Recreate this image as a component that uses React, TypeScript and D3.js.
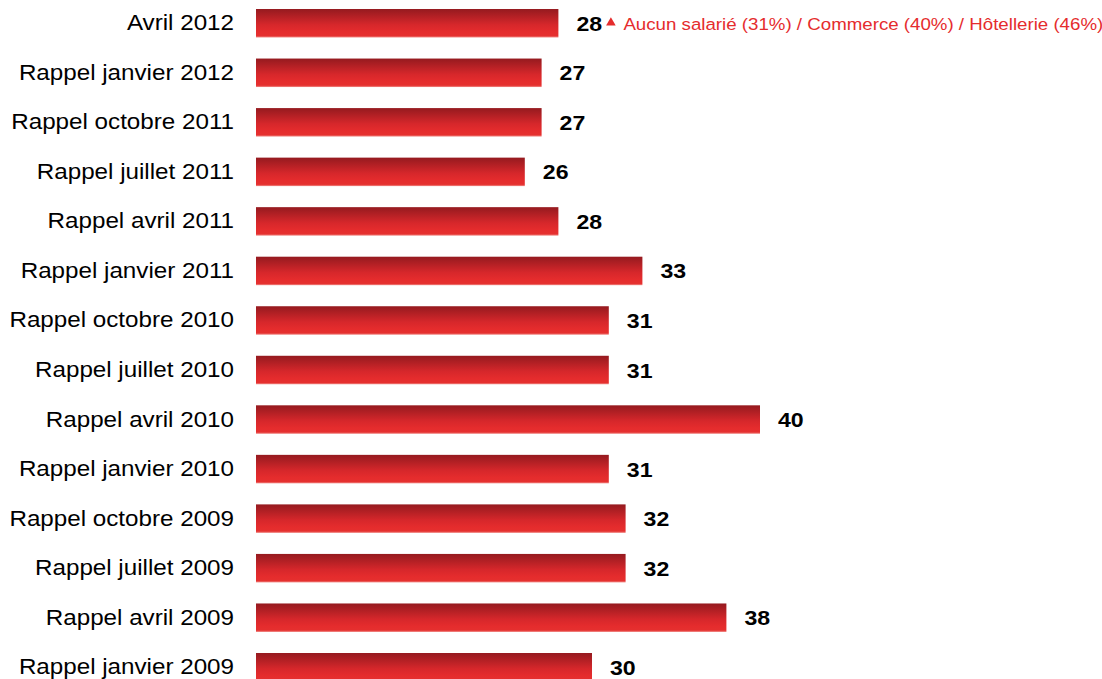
import * as d3 from 'd3'

const categories = [
  'Avril 2012',
  'Rappel janvier 2012',
  'Rappel octobre 2011',
  'Rappel juillet 2011',
  'Rappel avril 2011',
  'Rappel janvier 2011',
  'Rappel octobre 2010',
  'Rappel juillet 2010',
  'Rappel avril 2010',
  'Rappel janvier 2010',
  'Rappel octobre 2009',
  'Rappel juillet 2009',
  'Rappel avril 2009',
  'Rappel janvier 2009',
]
const values = [28, 27, 27, 26, 28, 33, 31, 31, 40, 31, 32, 32, 38, 30]
const note = 'Aucun salarié (31%) / Commerce (40%) / Hôtellerie (46%)'

const W = 1102
const H = 679
const FONT = 'Arial, "Liberation Sans", sans-serif'
const SX = 1.1 // the source text is a bit stretched horizontally

export default function App() {
  const x = d3.scaleLinear().domain([10, 40]).range([256, 760])
  const y = d3.scaleBand<string>()
    .domain(categories)
    .range([-0.9, 691.4])
    .paddingInner(0.425)
    .paddingOuter(0.2)
  const bw = y.bandwidth()

  return (
    <svg width={W} height={H} style={{ position: 'absolute', left: 0, top: 0 }}>
      <defs>
        <linearGradient id="barGrad" x1="0" y1="0" x2="0" y2="1">
          <stop offset="0" stopColor="#951a1f" />
          <stop offset="0.55" stopColor="#d6272b" />
          <stop offset="0.8" stopColor="#e52c2d" />
          <stop offset="0.94" stopColor="#e5302f" />
          <stop offset="1" stopColor="#f08a86" />
        </linearGradient>
      </defs>
      <rect width={W} height={H} fill="#fff" />
      {categories.map((c, i) => {
        const y0 = y(c) as number
        const xe = x(values[i])
        const cy = y0 + bw / 2
        return (
          <g key={c}>
            <rect x={x.range()[0]} y={y0} width={xe - x.range()[0]} height={bw} fill="url(#barGrad)" />
            <text transform={`translate(234,${cy + 7}) scale(${SX},1)`} textAnchor="end"
              fontFamily={FONT} fontSize={22} fill="#000">{c}</text>
            <text transform={`translate(${xe + 18},${cy + 7.5}) scale(${SX},1)`}
              fontFamily={FONT} fontSize={21} fontWeight="bold" fill="#000">{values[i]}</text>
            {i === 0 && (
              <g>
                <path d={d3.symbol(d3.symbolTriangle, 40)() as string}
                  transform={`translate(${xe + 52.5},${cy - 0.5})`} fill="#e52c2d" />
                <text transform={`translate(${xe + 65},${cy + 6.3}) scale(${SX},1)`}
                  fontFamily={FONT} fontSize={17} fill="#e52c2d">{note}</text>
              </g>
            )}
          </g>
        )
      })}
    </svg>
  )
}
